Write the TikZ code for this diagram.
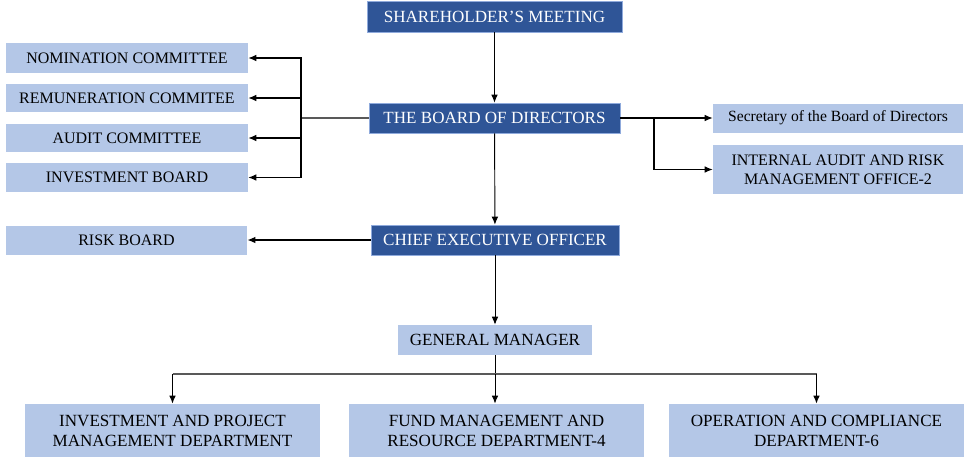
\documentclass[tikz,border=0pt]{standalone}
\usepackage{fontspec}
\setmainfont{Liberation Serif}
\usepackage{tikz}
\usetikzlibrary{arrows.meta, positioning}

\definecolor{darkblue}{HTML}{2F5597}
\definecolor{lightblue}{HTML}{B4C7E7}
\definecolor{edgeblue}{HTML}{8FAADC}

\tikzset{
    darkbox/.style={fill=darkblue, draw=edgeblue, line width=0.5pt, text=white, inner sep=0pt, align=center, font=\fontsize{12.8}{15}\selectfont},
    lightbox/.style={fill=lightblue, inner sep=0pt, align=center, font=\fontsize{12}{14.5}\selectfont},
    bigbox/.style={lightbox, font=\fontsize{12.8}{15}\selectfont},
    vline/.style={black, line width=0.7pt},
    hline/.style={black!65, line width=0.9pt},
    tip/.style={-{Latex[length=6pt,width=5pt]}, black}
}

\begin{document}
\begin{tikzpicture}[x=0.75pt, y=-0.75pt]
    \useasboundingbox (0,0) rectangle (968,465);

    % Main chain
    \node[darkbox, minimum width=191pt, minimum height=23pt] (meeting) at (494.5,16.5) {SHAREHOLDER'S MEETING};
    \node[darkbox, minimum width=188pt, minimum height=22.5pt] (board) at (494.5,118) {THE BOARD OF DIRECTORS};
    \node[darkbox, minimum width=186pt, minimum height=22.5pt] (ceo) at (495,240) {CHIEF EXECUTIVE OFFICER};
    \node[bigbox, minimum width=145pt, minimum height=22.5pt] (gm) at (495,340) {GENERAL MANAGER};

    % Committees (left)
    \node[lightbox, minimum width=181.5pt, minimum height=22.5pt] (nom) at (127,58) {NOMINATION COMMITTEE};
    \node[lightbox, minimum width=181.5pt, minimum height=21pt] (rem) at (127,98) {REMUNERATION COMMITEE};
    \node[lightbox, minimum width=181.5pt, minimum height=21pt] (aud) at (127,138) {AUDIT COMMITTEE};
    \node[lightbox, minimum width=181.5pt, minimum height=21.75pt] (inv) at (127,177.5) {INVESTMENT BOARD};
    \node[lightbox, minimum width=181pt, minimum height=21.75pt] (risk) at (126.5,240) {RISK BOARD};

    % Offices (right)
    \node[lightbox, minimum width=187.5pt, minimum height=21.75pt, font=\fontsize{11.7}{14}\selectfont] (sec) at (838,118) {Secretary of the Board of Directors};
    \node[lightbox, minimum width=187.5pt, minimum height=36.75pt] (iarm) at (838,169.5) {INTERNAL AUDIT AND RISK\\MANAGEMENT OFFICE-2};

    % Departments
    \node[bigbox, minimum width=221pt, minimum height=40pt] (ipm) at (172.5,430.5) {INVESTMENT AND PROJECT\\MANAGEMENT DEPARTMENT};
    \node[bigbox, minimum width=221pt, minimum height=40pt] (fund) at (496.5,430.5) {FUND MANAGEMENT AND\\RESOURCE DEPARTMENT-4};
    \node[bigbox, minimum width=221pt, minimum height=40pt] (ops) at (816.5,430.5) {OPERATION AND COMPLIANCE\\DEPARTMENT-6};

    % Bus points
    \coordinate (lbus) at (301,118);
    \coordinate (rbus) at (654,118);
    \coordinate (dbus) at (495,374);

    % Vertical arrows
    \draw[vline, tip] (meeting) -- (board);
    \draw[vline, tip] (board) -- (ceo);
    \draw[vline, tip] (ceo) -- (gm);

    % Left branch
    \draw[hline] (board.west) -- (lbus);
    \draw[hline, tip] (lbus) |- (nom.east);
    \draw[hline, tip] (lbus) |- (rem.east);
    \draw[hline, tip] (lbus) |- (aud.east);
    \draw[hline, tip] (lbus) |- (inv.east);
    \draw[hline, tip] (ceo.west) -- (risk.east);

    % Right branch
    \draw[hline, tip] (board.east) -- (sec.west);
    \draw[hline, tip] (rbus) |- (iarm.west);

    % Departments branch
    \draw[vline] (gm.south) -- (dbus);
    \draw[hline] (dbus -| ipm.north) -- (dbus -| ops.north);
    \draw[vline, tip] (dbus -| ipm.north) -- (ipm.north);
    \draw[vline, tip] (dbus) -- (dbus |- fund.north);
    \draw[vline, tip] (dbus -| ops.north) -- (ops.north);
\end{tikzpicture}
\end{document}
